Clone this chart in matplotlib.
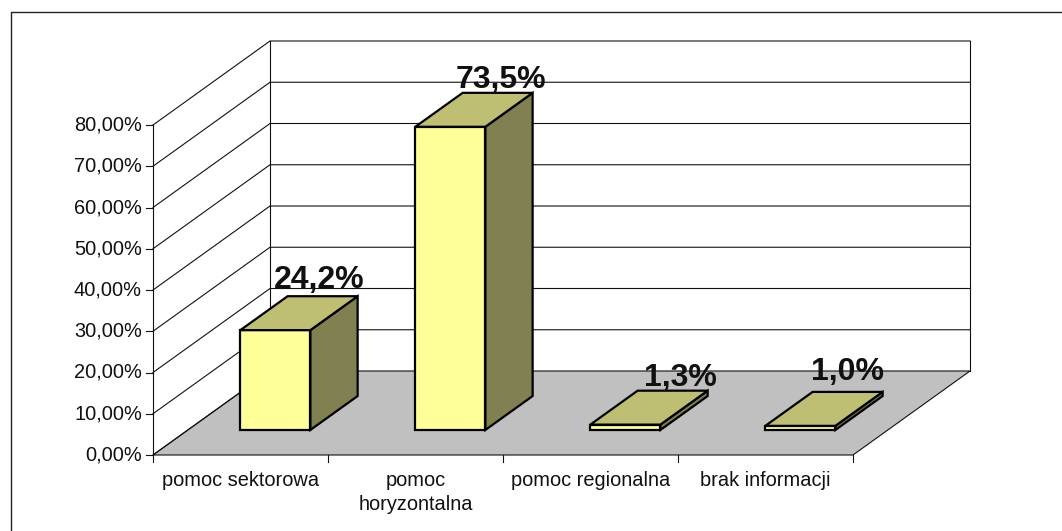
import matplotlib
matplotlib.use("Agg")
import matplotlib.pyplot as plt
from matplotlib.patches import Polygon

plt.rcParams['font.family'] = ['Liberation Sans', 'DejaVu Sans']

categories = ["pomoc sektorowa", "pomoc\nhoryzontalna", "pomoc regionalna", "brak informacji"]
values = [24.2, 73.5, 1.3, 1.0]
y_ticks = [0, 10, 20, 30, 40, 50, 60, 70, 80]

# pixel geometry of the fake 3d box
X0, Y0 = 153, 455
CAT_W = 175
PX_PER_UNIT = 330 / 80
DEPTH_X, DEPTH_Y = 117, -84

# small hand nudges for the data labels (pixels, from back top corner line to baseline)
label_dx = [-3, 3, 8, 0]
label_dy = [-8, -5, -5, -12]


def proj(cat, val, depth):
    # cat in category units, val in percent, depth 0 (front) to 1 (back)
    x = X0 + cat * CAT_W + depth * DEPTH_X
    y = Y0 - val * PX_PER_UNIT + depth * DEPTH_Y
    return (x, y)


fig = plt.figure(figsize=(10.62, 5.31), dpi=100, facecolor='white')
ax = fig.add_axes([0, 0, 1, 1])
ax.set_xlim(0, 1062)
ax.set_ylim(531, 0)
ax.axis('off')

LINE = '#111111'

# chart border, only left and top end up inside the picture
ax.plot([10.5, 10.5, 1062], [531, 11.5, 11.5], color='#222222', lw=1.0, zorder=1)

n = len(categories)
top = y_ticks[-1]

# floor
ax.add_patch(Polygon([proj(0, 0, 0), proj(n, 0, 0), proj(n, 0, 1), proj(0, 0, 1)],
                     fc='#C0C0C0', ec=LINE, lw=0.8, zorder=2))

# gridlines on side wall and back wall
for t in y_ticks[1:]:
    pts = [proj(0, t, 0), proj(0, t, 1), proj(n, t, 1)]
    ax.plot([p[0] for p in pts], [p[1] for p in pts], color=LINE, lw=0.8, zorder=2)

# wall edges
for a, b in [(proj(0, 0, 0), proj(0, top, 0)),
             (proj(0, 0, 1), proj(0, top, 1)),
             (proj(n, 0, 1), proj(n, top, 1)),
             (proj(0, 0, 0), proj(0, 0, 1))]:
    ax.plot([a[0], b[0]], [a[1], b[1]], color=LINE, lw=0.8, zorder=2)

# ticks and tick labels
for t in y_ticks:
    x, y = proj(0, t, 0)
    ax.plot([x - 7, x], [y, y], color=LINE, lw=0.8, zorder=2)
    ax.text(x - 11, y, f"{t:.2f}%".replace('.', ','), ha='right', va='center', fontsize=14.4, color='#111111')

for i in range(n + 1):
    x, y = proj(i, 0, 0)
    ax.plot([x, x], [y, y + 7], color=LINE, lw=0.8, zorder=2)

for i, c in enumerate(categories):
    x, y = proj(i + 0.5, 0, 0)
    ax.text(x, y + 16, c, ha='center', va='top', fontsize=14.4, color='#111111', linespacing=1.35)

# bars
d0, d1 = 0.298, 0.702
g0, g1 = 0.30, 0.70
for i, v in enumerate(values):
    a, b = i + g0, i + g1
    front = [proj(a, 0, d0), proj(b, 0, d0), proj(b, v, d0), proj(a, v, d0)]
    side = [proj(b, 0, d0), proj(b, 0, d1), proj(b, v, d1), proj(b, v, d0)]
    cap = [proj(a, v, d0), proj(b, v, d0), proj(b, v, d1), proj(a, v, d1)]
    for poly, col in [(side, '#808050'), (front, '#FFFF99'), (cap, '#BFBF73')]:
        ax.add_patch(Polygon(poly, fc=col, ec='black', lw=1.6, joinstyle='miter', zorder=3))
    x, y = proj((a + b) / 2, v, d1)
    ax.text(x + label_dx[i], y + label_dy[i], f"{v:.1f}%".replace('.', ','), ha='center', va='baseline',
            fontsize=23, fontweight='bold', color='#111111', zorder=4)

fig.savefig('out.png', dpi=100)
